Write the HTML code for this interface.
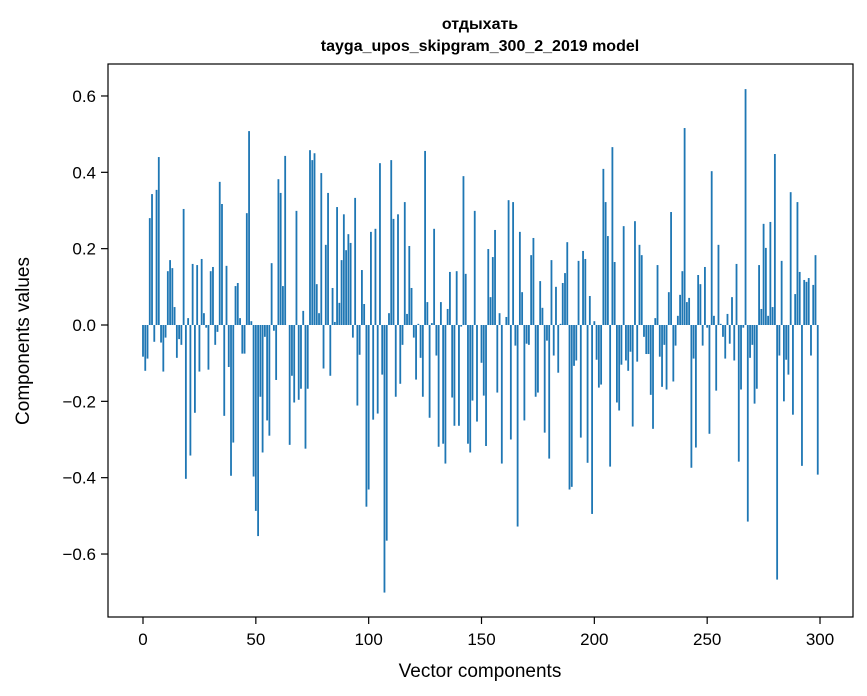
<!DOCTYPE html>
<html><head><meta charset="utf-8"><style>
html,body{margin:0;padding:0;background:#fff;}
svg{display:block;font-family:"Liberation Sans","DejaVu Sans",sans-serif;}
</style></head><body>
<svg id="chart" width="867" height="696" viewBox="0 0 867 696">
<rect x="0" y="0" width="867" height="696" fill="#fff"/>
<text x="480" y="29" text-anchor="middle" font-size="16" font-weight="bold">отдыхать</text>
<text x="480" y="51" text-anchor="middle" font-size="16" font-weight="bold">tayga_upos_skipgram_300_2_2019 model</text>
<g id="bars"></g>
<g id="xticks"></g>
<g id="yticks"></g>
<rect x="108" y="64" width="745" height="553" fill="none" stroke="#000" stroke-width="1.2"/>
<text x="480" y="677" text-anchor="middle" font-size="19">Vector components</text>
<text transform="translate(29,341) rotate(-90)" text-anchor="middle" font-size="19">Components values</text>
</svg>
<script>
const values = [
-0.083,-0.12,-0.088,0.28,0.343,-0.044,0.354,0.44,-0.046,-0.122,
-0.033,0.141,0.17,0.149,0.047,-0.086,-0.037,-0.052,0.304,-0.403,
0.018,-0.342,0.16,-0.23,0.157,-0.122,0.173,0.031,-0.007,-0.117,
0.141,0.152,-0.052,-0.018,0.375,0.317,-0.238,0.155,-0.11,-0.395,
-0.308,0.102,0.11,0.018,-0.075,-0.075,0.293,0.508,0.01,-0.397,
-0.487,-0.553,-0.188,-0.334,-0.031,-0.25,-0.29,0.162,-0.015,-0.144,
0.382,0.346,0.102,0.443,0.0,-0.314,-0.133,-0.203,0.299,-0.196,
-0.167,0.037,-0.324,-0.167,0.458,0.432,0.45,0.107,0.031,0.398,
-0.114,0.21,0.346,-0.133,0.097,0.008,0.309,0.058,0.17,0.29,
0.196,0.238,0.215,-0.033,0.333,-0.211,-0.078,0.144,0.055,-0.476,
-0.431,0.244,-0.248,0.252,-0.232,0.424,-0.13,-0.701,-0.565,0.031,
0.432,0.278,-0.188,0.29,-0.154,-0.052,0.322,0.029,0.207,0.097,
-0.033,-0.143,0.003,-0.086,-0.188,0.456,0.06,-0.243,0.005,0.252,
-0.08,-0.319,0.06,-0.311,-0.363,0.042,0.139,-0.19,-0.264,0.141,
-0.264,-0.004,0.39,0.134,-0.311,-0.334,-0.198,0.299,-0.253,0.0,
-0.099,-0.185,-0.317,0.199,0.073,0.178,0.249,-0.177,0.031,-0.363,
0.0,0.021,0.327,-0.30,0.322,-0.054,-0.528,0.244,0.086,-0.25,
-0.049,-0.052,0.183,0.228,-0.188,-0.177,0.115,0.045,-0.282,-0.041,
-0.35,0.17,-0.08,0.1,-0.125,0.003,0.11,0.136,0.217,-0.431,
-0.424,-0.107,-0.093,0.168,-0.295,0.194,0.173,-0.361,0.076,-0.495,
0.01,-0.091,-0.164,-0.156,0.409,0.322,0.233,-0.371,0.466,0.165,
-0.203,-0.224,-0.104,0.259,-0.093,-0.12,-0.07,-0.266,0.272,-0.096,
0.21,0.183,-0.031,-0.076,-0.076,-0.183,-0.272,0.018,0.157,-0.083,
-0.162,-0.052,-0.169,0.086,0.296,-0.148,-0.054,0.024,0.079,0.141,
0.516,0.06,0.071,-0.374,-0.088,-0.321,0.131,0.107,-0.054,0.152,
-0.007,-0.285,0.403,0.024,-0.172,0.21,0.003,-0.031,-0.088,0.029,
-0.049,0.073,-0.093,0.16,-0.358,-0.169,-0.007,0.618,-0.515,-0.086,
-0.052,-0.206,-0.167,0.157,0.042,0.265,0.202,0.024,0.27,0.047,
0.448,-0.667,-0.08,0.168,-0.2,-0.091,-0.13,0.348,-0.235,0.081,
0.322,0.139,-0.369,0.118,0.113,0.123,-0.08,0.105,0.183,-0.392
];
const xTicks = [0,50,100,150,200,250,300];
const yTicks = [-0.6,-0.4,-0.2,0.0,0.2,0.4,0.6];
const yTickLabels = ["\u22120.6","\u22120.4","\u22120.2","0.0","0.2","0.4","0.6"];

const NS = "http://www.w3.org/2000/svg";
function xs(i){ return 143 + i * 2.2567; }
function ys(v){ return 325 - v * 381.7; }
const barsG = document.getElementById('bars');
const barW = 0.8 * 2.2567;
values.forEach(function(v, i){
  const r = document.createElementNS(NS, 'rect');
  const y0 = ys(0), y1 = ys(v);
  r.setAttribute('x', (xs(i) - barW / 2).toFixed(2));
  r.setAttribute('y', Math.min(y0, y1).toFixed(2));
  r.setAttribute('width', barW.toFixed(2));
  r.setAttribute('height', Math.max(Math.abs(y1 - y0), 0.01).toFixed(2));
  r.setAttribute('fill', '#1f77b4');
  
  
  barsG.appendChild(r);
});
const xg = document.getElementById('xticks');
xTicks.forEach(function(t){
  const l = document.createElementNS(NS, 'line');
  l.setAttribute('x1', xs(t)); l.setAttribute('x2', xs(t));
  l.setAttribute('y1', 617); l.setAttribute('y2', 624);
  l.setAttribute('stroke', '#000'); l.setAttribute('stroke-width', '1.2');
  
  
  xg.appendChild(l);
  const tx = document.createElementNS(NS, 'text');
  tx.setAttribute('x', xs(t)); tx.setAttribute('y', 645);
  tx.setAttribute('text-anchor', 'middle'); tx.setAttribute('font-size', '17');
  tx.textContent = String(t);
  
  
  xg.appendChild(tx);
});
const yg = document.getElementById('yticks');
yTicks.forEach(function(t, k){
  const l = document.createElementNS(NS, 'line');
  l.setAttribute('x1', 101); l.setAttribute('x2', 108);
  l.setAttribute('y1', ys(t)); l.setAttribute('y2', ys(t));
  l.setAttribute('stroke', '#000'); l.setAttribute('stroke-width', '1.2');
  
  
  yg.appendChild(l);
  const tx = document.createElementNS(NS, 'text');
  tx.setAttribute('x', 96); tx.setAttribute('y', ys(t) + 6);
  tx.setAttribute('text-anchor', 'end'); tx.setAttribute('font-size', '17');
  tx.textContent = yTickLabels[k];
  
  
  yg.appendChild(tx);
});
</script>
</body></html>
